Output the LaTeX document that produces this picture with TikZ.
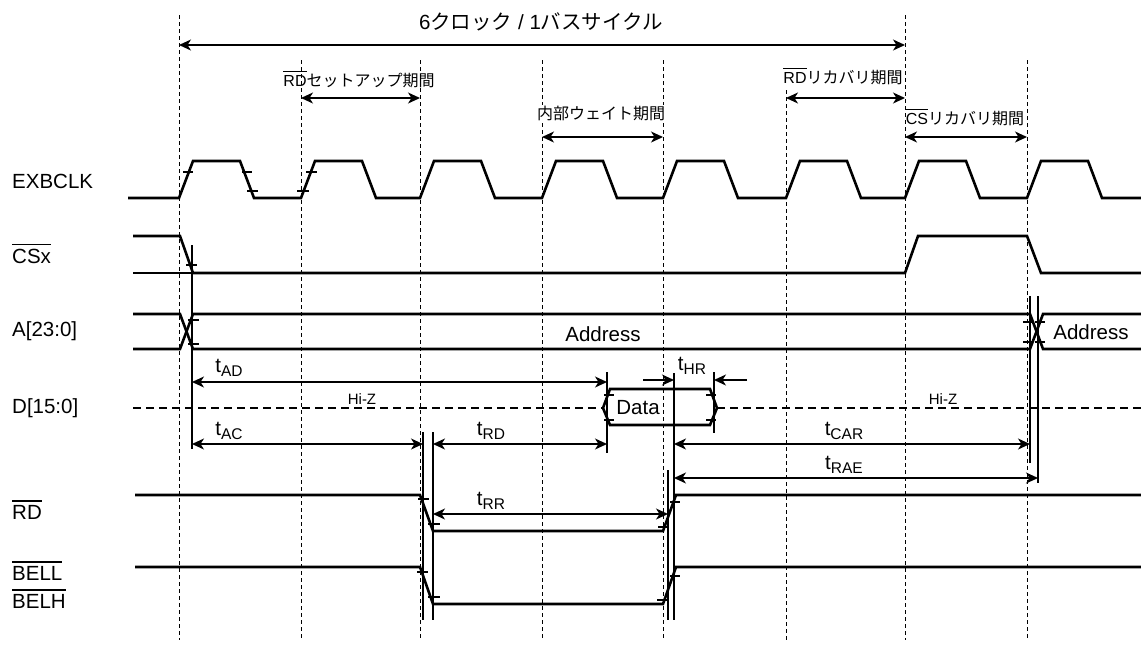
\documentclass[tikz,border=0pt]{standalone}
\usepackage{fontspec}
\setmainfont{Liberation Sans}
\newfontfamily\jp{Noto Sans CJK JP}
\usetikzlibrary{arrows.meta,calc}

\newcommand{\ovl}[1]{\leavevmode\vbox{\hrule height .075em\kern .2em\hbox{#1}}}
\newcommand{\tm}[1]{t\raisebox{-4pt}{\fontsize{15.5}{16}\selectfont #1}}

\begin{document}
\begin{tikzpicture}[x=1pt,y=-1pt,
  >={Stealth[length=12pt,width=11pt,inset=3.5pt]},
  sig/.style={line width=2.6pt,line join=miter},
  hizline/.style={line width=2.4pt,dash pattern=on 8pt off 5pt},
  guide/.style={line width=0.9pt,dash pattern=on 4pt off 3pt},
  vline/.style={line width=1.5pt},
  tk/.style={line width=1.5pt},
  dim/.style={<->,line width=1.4pt},
  big/.style={font=\fontsize{20.5}{28}\selectfont,inner sep=0pt},
  small/.style={font=\fontsize{16}{18}\selectfont,inner sep=1pt},
  hiz/.style={font=\fontsize{15}{16}\selectfont,inner sep=0pt},
]
\useasboundingbox (0,0) rectangle (1141,646);

% clock edges / guide lines
\foreach \x/\t [count=\i] in {179/15,301/60,420/60,542/60,663/60,786/90,905/15,1027/60}{
  \coordinate (g\i) at (\x,0);
  \draw[guide] (\x,\t) -- (\x,640);
}

% timing reference x positions and rows
\coordinate (cs)   at (192,0);
\coordinate (rdf1) at (423,0);
\coordinate (rdf2) at (433,0);
\coordinate (dv)   at (607,0);
\coordinate (rr)   at (668,0);
\coordinate (rdr)  at (674,0);
\coordinate (hr)   at (714,0);
\coordinate (ad1)  at (1030,0);
\coordinate (ad2)  at (1038,0);
\coordinate (yBus)  at (0,45);
\coordinate (ySet)  at (0,98);
\coordinate (yWait) at (0,137);
\coordinate (yHR)   at (0,380);
\coordinate (yAD)   at (0,382);
\coordinate (yAC)   at (0,444);
\coordinate (yRAE)  at (0,478);
\coordinate (yRR)   at (0,514);

% signal names
\node[big,anchor=west] (nclk) at (12,181) {EXBCLK};
\node[big,anchor=west] (ncs)  at (12,254) {\ovl{CSx}};
\node[big,anchor=west] (na)   at (12,331) {A[23:0]};
\node[big,anchor=west] (nd)   at (12,408) {D[15:0]};
\node[big,anchor=west] (nrd)  at (12,510) {\ovl{RD}};
\node[big,anchor=west,align=left] (nbe) at (12,585) {\ovl{BELL}\\\ovl{BELH}};

% period labels
\node[big] (lbus) at (541,22) {6{\jp クロック} / 1{\jp バスサイクル}};
\node[small] (lset) at (359,79) {\ovl{RD}{\jp セットアップ期間}};
\node[small,fill=white] (lwait) at (601,113) {\jp 内部ウェイト期間};
\node[small] (lrec) at (843,76) {\ovl{RD}{\jp リカバリ期間}};
\node[small] (lcsr) at (965,117) {\ovl{CS}{\jp リカバリ期間}};

\draw[dim] (g1 |- yBus) -- (g7 |- yBus);
\draw[dim] (g2 |- ySet) -- (g3 |- ySet);
\draw[dim] (g6 |- ySet) -- (g7 |- ySet);
\draw[dim] (g4 |- yWait) -- (g5 |- yWait);
\draw[dim] (g7 |- yWait) -- (g8 |- yWait);

% EXBCLK
\draw[sig] (128,198) \foreach \x in {179,301,420,542,663,786,905,1027}{
  -- (\x,198) -- ({\x+14},161) -- ({\x+61},161) -- ({\x+75},198)} -- (1141,198);

% CSx
\draw[sig] (133,273) -- (193,273);
\draw[sig] (133,236) -- (180,236) -- (193,273) -- (905,273) -- (918,236)
  -- (1027,236) -- (1041,273) -- (1141,273);

% A[23:0]
\draw[sig] (133,314) -- (180,314) -- (193,349) -- (1030,349) -- (1043,314) -- (1141,314);
\draw[sig] (133,349) -- (180,349) -- (193,314) -- (1030,314) -- (1043,349) -- (1141,349);
\node[big] (addr1) at (603,334) {Address};
\node[big] (addr2) at (1091,332) {Address};

% D[15:0]
\draw[hizline] (133,408) -- (603,408);
\draw[hizline] (717,408) -- (1141,408);
\draw[sig] (603,408) -- (610,389) -- (710,389) -- (717,408) -- (710,425) -- (610,425) -- cycle;
\node[big] (data) at (638,408) {Data};
\node[hiz] (hz1) at (362,399) {Hi-Z};
\node[hiz] (hz2) at (943,399) {Hi-Z};

% RD, BELL/BELH
\draw[sig] (135,495) -- (420,495) -- (433,531) -- (663,531) -- (676,495) -- (1141,495);
\draw[sig] (135,567) -- (420,567) -- (433,604) -- (663,604) -- (676,567) -- (1141,567);

% edge ticks
\foreach \a/\b/\y in {183/193/172, 242/252/172, 247/258/191, 306/317/172, 297/309/191,
    186/197/265, 188/199/320, 188/199/344, 1023/1033/322, 1023/1033/342,
    1035/1045/322, 1035/1045/342, 604/614/395, 604/614/420, 706/716/395, 706/716/420,
    418/429/499, 428/440/524, 658/668/527, 670/680/502,
    417/428/572, 428/440/597, 657/667/600, 670/680/576}
  \draw[tk] (\a,\y) -- (\b,\y);

% reference lines
\draw[vline] ($(cs)+(0,245)$) -- ($(cs)+(0,449)$);
\draw[vline] ($(dv)+(0,372)$) -- ($(dv)+(0,453)$);
\draw[vline] ($(hr)+(0,372)$) -- ($(hr)+(0,433)$);
\draw[vline] ($(rdr)+(0,373)$) -- ($(rdr)+(0,620)$);
\draw[vline] ($(rr)+(0,470)$) -- ($(rr)+(0,620)$);
\draw[vline] ($(rdf1)+(0,432)$) -- ($(rdf1)+(0,620)$);
\draw[vline] ($(rdf2)+(0,432)$) -- ($(rdf2)+(0,620)$);
\draw[vline] ($(ad1)+(0,296)$) -- ($(ad1)+(0,463)$);
\draw[vline] ($(ad2)+(0,296)$) -- ($(ad2)+(0,483)$);

% timing parameters
\draw[dim] (cs |- yAD) -- (dv |- yAD);
\node[big] (tad) at (229,368) {\tm{AD}};
\draw[dim] (cs |- yAC) -- (rdf1 |- yAC);
\node[big] (tac) at (229,431) {\tm{AC}};
\draw[dim] (rdf2 |- yAC) -- (dv |- yAC);
\node[big] (trd) at (491,431) {\tm{RD}};
\draw[->,line width=1.4pt] ($(rdr |- yHR)+(-31,0)$) -- (rdr |- yHR);
\draw[->,line width=1.4pt] ($(hr |- yHR)+(33,0)$) -- (hr |- yHR);
\node[big] (thr) at (692,366) {\tm{HR}};
\draw[dim] (rdr |- yAC) -- (ad1 |- yAC);
\node[big] (tcar) at (844,431) {\tm{CAR}};
\draw[dim] (rdr |- yRAE) -- (ad2 |- yRAE);
\node[big] (trae) at (844,465) {\tm{RAE}};
\draw[dim] (rdf2 |- yRR) -- (rr |- yRR);
\node[big] (trr) at (491,501) {\tm{RR}};
\end{tikzpicture}
\end{document}
